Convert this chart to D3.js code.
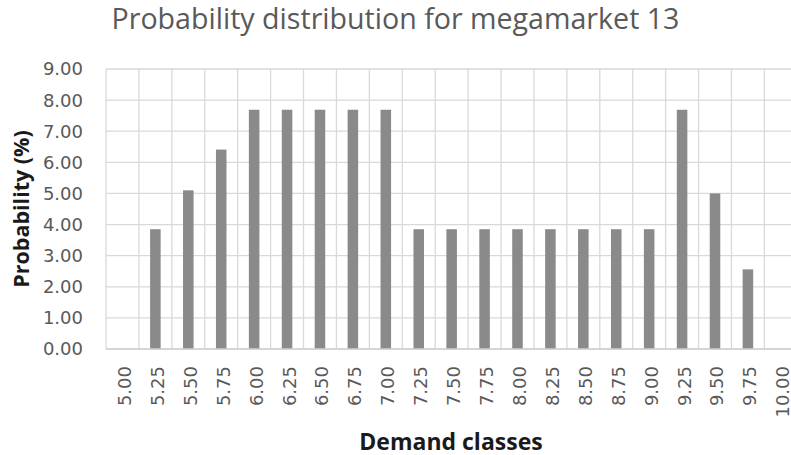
<!DOCTYPE html>
<html>
<head>
<meta charset="utf-8">
<script src="https://cdn.jsdelivr.net/npm/d3@7"></script>
<style>
  html, body { margin: 0; padding: 0; background: #ffffff; }
  svg { display: block; }
</style>
</head>
<body>
<svg id="chart" width="791" height="455"></svg>
<script>
// Demand classes and the probability (%) of each one
const categories = ["5.00", "5.25", "5.50", "5.75", "6.00", "6.25", "6.50", "6.75", "7.00",
  "7.25", "7.50", "7.75", "8.00", "8.25", "8.50", "8.75", "9.00", "9.25", "9.50", "9.75", "10.00"];
const probabilities = [0, 3.85, 5.10, 6.41, 7.69, 7.69, 7.69, 7.69, 7.69,
  3.85, 3.85, 3.85, 3.85, 3.85, 3.85, 3.85, 3.85, 7.69, 5.00, 2.56, 0];
const yTicks = [0, 1, 2, 3, 4, 5, 6, 7, 8, 9];

const titleText = "Probability distribution for megamarket 13";
const xTitle = "Demand classes";
const yTitle = "Probability (%)";

const W = 791, H = 455;
const margin = { left: 106, top: 69, bottom: 349 };
const plotRight = 797.3;

const svg = d3.select("#chart");

const x = d3.scaleBand().domain(categories).range([margin.left, plotRight]).padding(0);
const y = d3.scaleLinear().domain([0, 9]).range([margin.bottom, margin.top]);

const gridColor = "#d9d9d9";
const labelColor = "#595959";
const tickFont = "DejaVu Sans, sans-serif";
const tickSize = 18;

// Horizontal gridlines
svg.append("g").selectAll("line").data(yTicks).join("line")
  .attr("x1", margin.left).attr("x2", plotRight)
  .attr("y1", d => y(d)).attr("y2", d => y(d))
  .attr("stroke", gridColor).attr("stroke-width", 1.3);

// Vertical gridlines at category boundaries
svg.append("g").selectAll("line").data(categories).join("line")
  .attr("x1", d => x(d)).attr("x2", d => x(d))
  .attr("y1", y(9)).attr("y2", y(0))
  .attr("stroke", gridColor).attr("stroke-width", 1.3);

// Bars
const barW = x.bandwidth() * 0.32;
svg.append("g").selectAll("rect").data(categories.map((c, i) => ({ c, v: probabilities[i] })))
  .join("rect")
  .attr("x", d => x(d.c) + x.bandwidth() / 2 - barW / 2)
  .attr("width", barW)
  .attr("y", d => y(d.v))
  .attr("height", d => y(0) - y(d.v))
  .attr("fill", "#8a8a8a");

// Category axis line
svg.append("line")
  .attr("x1", margin.left).attr("x2", plotRight)
  .attr("y1", y(0)).attr("y2", y(0))
  .attr("stroke", "#d0d0d0").attr("stroke-width", 1.5);

// Y tick labels
svg.append("g").selectAll("text").data(yTicks).join("text")
  .attr("x", 83).attr("y", d => y(d)).attr("dy", "0.36em")
  .attr("text-anchor", "end")
  .attr("font-family", tickFont).attr("font-size", tickSize)
  .attr("fill", labelColor)
  .text(d => d3.format(".2f")(d));

// X tick labels, rotated
svg.append("g").selectAll("text").data(categories).join("text")
  .attr("transform", d => `translate(${x(d) + x.bandwidth() / 2 + 2},366) rotate(-90)`)
  .attr("dy", "0.36em")
  .attr("text-anchor", "end")
  .attr("font-family", tickFont).attr("font-size", tickSize)
  .attr("fill", labelColor)
  .text(d => d);

// Chart title
svg.append("text")
  .attr("x", W / 2).attr("y", 29)
  .attr("text-anchor", "middle")
  .attr("font-family", "Open Sans, sans-serif").attr("font-size", 28.6)
  .attr("fill", labelColor)
  .text(titleText);

// Axis titles
svg.append("text")
  .attr("x", 451).attr("y", 450)
  .attr("text-anchor", "middle")
  .attr("font-family", "Open Sans, sans-serif").attr("font-weight", "bold").attr("font-size", 23)
  .attr("fill", "#1a1a1a")
  .text(xTitle);

svg.append("text")
  .attr("transform", `translate(29,209) rotate(-90)`)
  .attr("text-anchor", "middle")
  .attr("font-family", "Open Sans, sans-serif").attr("font-weight", "bold").attr("font-size", 21.5)
  .attr("fill", "#1a1a1a")
  .text(yTitle);
</script>
</body>
</html>
